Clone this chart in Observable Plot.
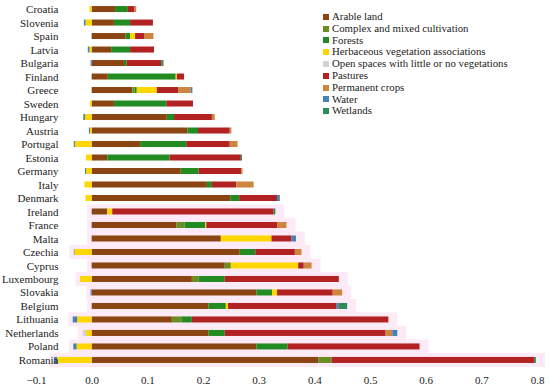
<!DOCTYPE html>
<html>
<head>
<meta charset="utf-8">
<script src="https://cdn.jsdelivr.net/npm/d3@7"></script>
<script src="https://cdn.jsdelivr.net/npm/@observablehq/plot@0.6"></script>
<style>
  html, body { margin: 0; padding: 0; background: #fff; }
  #wrap { position: relative; width: 550px; height: 389px; }
  #legend { position: absolute; left: 323px; top: 11px; font-family: "Liberation Serif", serif; font-size: 10.8px; color: #222; line-height: 11.8px; }
  #legend div { display: flex; align-items: center; white-space: nowrap; }
  #legend span.sw { display: inline-block; width: 6px; height: 6px; margin-right: 3px; }
</style>
</head>
<body>
<div id="wrap"><div id="chart"></div><div id="legend"></div></div>
<script>
const countries = ["Croatia","Slovenia","Spain","Latvia","Bulgaria","Finland","Greece","Sweden","Hungary","Austria","Portugal","Estonia","Germany","Italy","Denmark","Ireland","France","Malta","Czechia","Cyprus","Luxembourg","Slovakia","Belgium","Lithuania","Netherlands","Poland","Romania"];

const categories = ["Arable land","Complex and mixed cultivation","Forests","Herbaceous vegetation associations","Open spaces with little or no vegetations","Pastures","Permanent crops","Water","Wetlands"];
const colors = ["#8B4513","#6B8E23","#228B22","#FFD700","#D3D3D3","#B22222","#CD853F","#4682B4","#2E8B57"];

const arable      = [0.042,0.040,0.061,0.035,0.058,0.029,0.073,0.040,0.135,0.172,0.087,0.028,0.160,0.207,0.249,0.028,0.152,0.232,0.266,0.239,0.180,0.296,0.210,0.144,0.210,0.296,0.407];
const complexMixed= [0,0,0,0,0,0,0.004,0,0,0,0,0,0,0,0,0,0.015,0,0,0.011,0.012,0,0,0.018,0,0,0.024];
const forests     = [0.023,0.029,0.008,0.034,0.005,0.122,0.004,0.094,0.013,0.019,0.083,0.112,0.032,0.009,0.016,0,0.037,0,0.028,0,0.047,0.028,0.031,0.018,0.029,0.056,0];
const herbaceous  = [-0.004,-0.011,0.009,-0.004,0,0.002,0.036,-0.003,-0.012,-0.003,-0.030,-0.010,-0.010,-0.013,-0.011,0.009,0.002,0.091,-0.031,0.121,-0.021,0.009,0.004,-0.026,-0.010,-0.027,-0.062];
const openSpaces  = [0,0,0,0,0,0,0,0,0,0,0,0,0,0,0,0,0,0,0,0,0,0,0,0,-0.006,0,0];
const pastures    = [0.012,0.041,0.016,0.043,0.062,0.013,0.039,0.048,0.068,0.057,0.078,0.128,0.077,0.044,0.068,0.290,0.127,0.036,0.071,0.010,0.205,0.100,0.195,0.353,0.289,0.237,0.364];
const permanent   = [0.003,0,0.017,0,0,0,0.022,0,0.005,0.003,0.014,0,0.002,0.031,0,0,0.017,0,0.012,0.014,0,0.017,0,0,0.012,0,0];
const water       = [0,-0.003,0,-0.003,-0.002,0,0.003,0,-0.003,-0.002,-0.002,0,-0.002,0,0.005,0,0,0.008,-0.001,0,0,-0.002,0.004,-0.008,0.009,-0.006,-0.006];
const wetlands    = [0,0,0,0,0.004,0,0,0,0,0,0,0.002,0,0,0,0.003,0,0,0,0,0,0,0.015,0,0,0,0.003];

const xTicks = [-0.1,0,0.1,0.2,0.3,0.4,0.5,0.6,0.7,0.8];
const tintedFrom = "Ireland";

const series = [arable, complexMixed, forests, herbaceous, openSpaces, pastures, permanent, water, wetlands];
const data = [];
series.forEach((vals, k) => vals.forEach((v, i) => {
  if (v !== 0) data.push({country: countries[i], category: categories[k], value: v});
}));

const tintIdx = countries.indexOf(tintedFrom);
const halo = countries.slice(tintIdx).map(c => {
  const i = countries.indexOf(c);
  let neg = 0, pos = 0;
  series.forEach(s => { if (s[i] < 0) neg += s[i]; else pos += s[i]; });
  return {country: c, x1: neg - 0.008, x2: pos + 0.016};
});

const chart = Plot.plot({
  width: 550,
  height: 389,
  marginLeft: 36,
  marginRight: 13,
  marginTop: 2,
  marginBottom: 22,
  style: {fontFamily: "Liberation Serif, serif", fontSize: "11px", color: "#222", background: "transparent"},
  x: {domain: [-0.1, 0.8], ticks: xTicks, tickFormat: d3.format(".1f"), label: null},
  y: {domain: countries, paddingInner: 0.555, paddingOuter: 0.3, round: false, label: null},
  color: {domain: categories, range: colors},
  marks: [
    Plot.barX(halo, {x1: "x1", x2: "x2", y: "country", fill: "#fdeaf7", insetTop: -4, insetBottom: -4}),
    Plot.barX(data, Plot.stackX({x: "value", y: "country", fill: "category", order: categories})),
    Plot.axisX({ticks: xTicks, tickFormat: d3.format(".1f"), tickSize: 0, tickPadding: 9, label: null}),
    Plot.axisY({tickSize: 0, tickPadding: 0, dx: 22, label: null})
  ]
});
document.getElementById("chart").appendChild(chart);

const legend = document.getElementById("legend");
categories.forEach((c, k) => {
  const row = document.createElement("div");
  const sw = document.createElement("span");
  sw.className = "sw";
  sw.style.background = colors[k];
  row.appendChild(sw);
  row.appendChild(document.createTextNode(c));
  legend.appendChild(row);
});
</script>
</body>
</html>
